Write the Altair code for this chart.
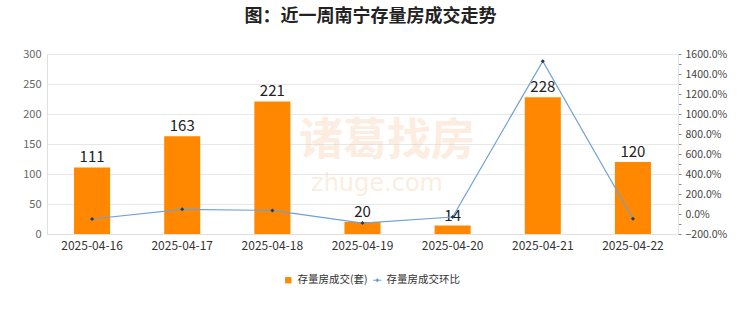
import altair as alt
import pandas as pd

dates = ["2025-04-16", "2025-04-17", "2025-04-18", "2025-04-19", "2025-04-20", "2025-04-21", "2025-04-22"]
deals = [111, 163, 221, 20, 14, 228, 120]
ratio = [-50.0, 46.8, 35.6, -91.0, -30.0, 1528.6, -47.4]

bar_name = "存量房成交(套)"
line_name = "存量房成交环比"

df = pd.DataFrame({"date": dates, "deals": deals, "ratio": ratio,
                   "s1": [bar_name] * 7, "s2": [line_name] * 7})

FONT = "Noto Sans CJK SC"
x = alt.X("date:N", title=None, sort=dates,
          scale=alt.Scale(paddingInner=0.6, paddingOuter=0.3),
          axis=alt.Axis(labelAngle=0, labelFontSize=12, labelColor="#333333", ticks=False,
                        domainColor="#E0E0E0", labelPadding=6, labelFont=FONT))

y_left = alt.Y("deals:Q", title=None, scale=alt.Scale(domain=[0, 300]),
               axis=alt.Axis(values=[0, 50, 100, 150, 200, 250, 300], ticks=False, domainColor="#E0E0E0",
                             gridColor="#E8E8E8", labelColor="#666666", labelFontSize=11, labelPadding=6,
                             labelFont=FONT, labelOverlap=False))

ticks_r = list(range(-200, 1700, 100))
y_right = alt.Y("ratio:Q", title=None, scale=alt.Scale(domain=[-200, 1600]),
                axis=alt.Axis(orient="right", values=ticks_r, grid=False, tickSize=3, tickColor="#888888",
                              domainColor="#E0E0E0", labelColor="#444444", labelFontSize=10.5, labelFont=FONT,
                              labelOverlap=False, labelPadding=4,
                              labelExpr="datum.value % 200 == 0 ? format(datum.value, '.1f') + '%' : ''"))

bars = alt.Chart(df).mark_bar(color="#FF8800").encode(
    x=x, y=y_left,
    color=alt.Color("s1:N", scale=alt.Scale(domain=[bar_name], range=["#FF8800"]),
                    legend=alt.Legend(title=None, symbolType="square", symbolSize=40, orient="none",
                                      legendX=236, legendY=221, padding=0,
                                      labelFontSize=10.5, labelColor="#333333", labelFont=FONT)),
)

labels = alt.Chart(df).mark_text(dy=-10, fontSize=15, color="#222222", font=FONT).encode(
    x=x, y=y_left, text="deals:Q")

left = alt.layer(bars, labels)

line = alt.Chart(df).mark_line(color="#6FA0D8", strokeWidth=1.2).encode(
    x=x, y=y_right,
    stroke=alt.Stroke("s2:N", scale=alt.Scale(domain=[line_name], range=["#6FA0D8"]),
                      legend=alt.Legend(title=None, orient="none", legendX=325, legendY=221, padding=0,
                                        symbolType="M-1,0L1,0M0,-0.3L0.3,0L0,0.3L-0.3,0Z",
                                        symbolSize=70, symbolStrokeWidth=1.2, symbolFillColor="#1F3864",
                                        labelFontSize=10.5, labelColor="#333333", labelFont=FONT)),
)
pts = alt.Chart(df).mark_point(shape="diamond", filled=True, color="#1F3864", size=16, opacity=1).encode(
    x=x, y=y_right)
right = alt.layer(line, pts)

wm = alt.Data(values=[{}])
wm1 = alt.Chart(wm).mark_text(text="诸葛找房", fontSize=44, color="#F6C49A", opacity=0.3,
                              font=FONT, fontWeight="bold").encode(x=alt.value(340), y=alt.value(88))
wm2 = alt.Chart(wm).mark_text(text="zhuge.com", fontSize=24, color="#F6C49A", opacity=0.3,
                              font="DejaVu Sans").encode(x=alt.value(330), y=alt.value(130))

chart = alt.layer(left, right, wm1, wm2).resolve_scale(y="independent", color="independent").properties(
    width=631, height=180, background="white",
    title=alt.TitleParams("图：近一周南宁存量房成交走势", fontSize=18, font=FONT, fontWeight="bold",
                          color="#222222", offset=22, dx=8),
    autosize=alt.AutoSizeParams(type="none"),
    padding={"left": 47, "top": 54, "right": 62, "bottom": 78},
).configure_view(stroke="#E0E0E0")

chart.save("out.html", embed_options={"renderer": "svg", "actions": False})
